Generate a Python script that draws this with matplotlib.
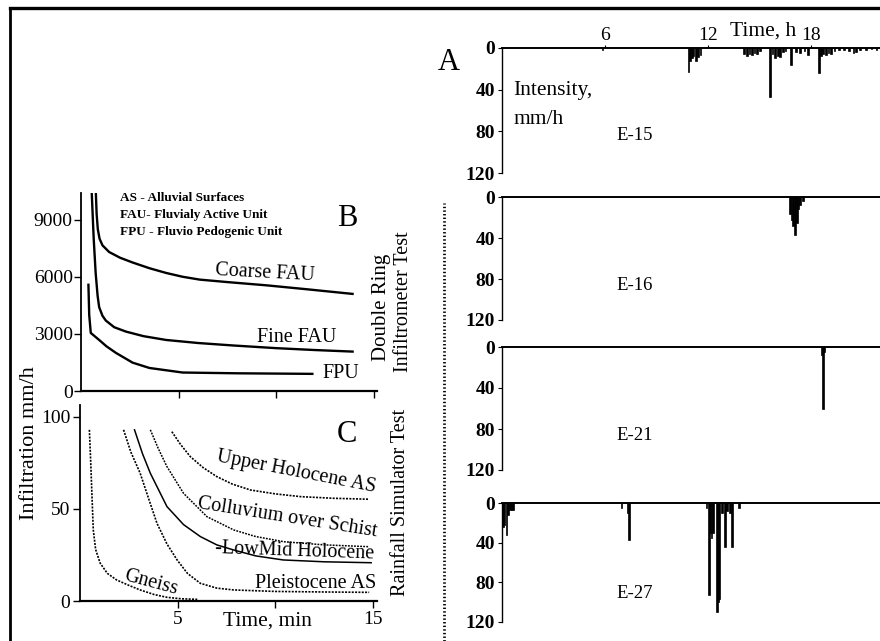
import matplotlib
matplotlib.use("Agg")
import matplotlib.pyplot as plt
from matplotlib.lines import Line2D

plt.rcParams['font.family'] = ['Liberation Serif', 'DejaVu Serif']

# ---------------- data ----------------
# Panel A: rainfall intensity events (time in h, intensity mm/h)
e15_t = [5.85, 10.85, 10.95, 11.05, 11.15, 11.3, 11.4, 11.55, 14.1, 14.25, 14.4, 14.55,
         14.7, 14.85, 15.0, 15.58, 15.75, 15.9, 16.05, 16.2, 16.35, 16.5, 16.8, 17.1,
         17.35, 17.6, 17.8, 18.43, 18.55, 18.7, 18.85, 19.0, 19.15, 19.35, 19.6, 19.9,
         20.2, 20.45, 20.6, 20.85, 21.2, 21.5, 21.8]
e15_v = [2, 23, 12, 10, 8, 12, 9, 7, 6, 8, 6, 7,
         5, 6, 3, 47, 6, 10, 8, 9, 4, 3, 16, 4,
         5, 3, 7, 24, 8, 6, 7, 5, 6, 3, 2, 2,
         3, 5, 4, 2, 2, 1, 2]
e16_t = [16.75, 16.85, 16.95, 17.05, 17.15, 17.25, 17.35, 17.5]
e16_v = [17, 22, 28, 37, 25, 12, 8, 4]
e21_t = [18.6, 18.68, 18.75]
e21_v = [8, 60, 5]
e27_t = [0.05, 0.15, 0.27, 0.35, 0.45, 0.55, 0.65, 6.96, 7.3, 7.38, 11.9, 12.05, 12.12,
         12.2, 12.3, 12.5, 12.57, 12.65, 12.8, 12.98, 13.1, 13.25, 13.37, 13.8]
e27_v = [24, 22, 32, 12, 7, 7, 7, 5, 10, 37, 5, 93, 30,
         35, 30, 110, 100, 97, 10, 44, 8, 10, 44, 5]
event_names = ["E-15", "E-16", "E-21", "E-27"]
intensity_ticks = [0, 40, 80, 120]
time_h_ticks = [6, 12, 18]

# Panel B: double ring infiltrometer (time min, infiltration mm/h)
coarse_t = [0.76, 0.80, 0.86, 0.95, 1.1, 1.44, 2.0, 2.64, 3.5, 4.36, 5.2, 6.08, 7.5, 9.5, 11.5, 13.9]
coarse_v = [10400, 9300, 8500, 8000, 7650, 7300, 7000, 6750, 6450, 6200, 6000, 5850, 5720, 5550, 5350, 5100]
fine_t = [0.55, 0.65, 0.75, 0.85, 0.93, 1.1, 1.27, 1.7, 2.3, 3.2, 4.36, 6.0, 7.8, 10.0, 12.0, 13.9]
fine_v = [10400, 8000, 6200, 5000, 4400, 3950, 3700, 3350, 3120, 2880, 2680, 2520, 2390, 2250, 2150, 2070]
fpu_t = [0.38, 0.42, 0.5, 0.93, 1.3, 1.79, 2.64, 3.5, 5.2, 8.0, 11.84]
fpu_v = [5580, 4000, 3050, 2680, 2350, 2000, 1490, 1210, 970, 930, 900]
b_yticks = [0, 3000, 6000, 9000]

# Panel C: rainfall simulator (time min, infiltration mm/h)
gneiss_t = [0.48, 0.55, 0.62, 0.68, 0.8, 1.03, 1.4, 1.88, 2.5, 3.08, 3.8, 4.45, 5.2, 6.0]
gneiss_v = [93, 75, 55, 38.6, 28, 20.6, 15, 11.4, 8.5, 6, 3.5, 2, 1.2, 0.9]
pleist_t = [2.23, 2.6, 3.08, 3.5, 3.94, 4.45, 4.97, 5.5, 6.16, 7.0, 7.87, 10.0, 12.5, 14.8]
pleist_v = [93, 81, 69.4, 56, 42.2, 31, 22.3, 15, 9.6, 7, 6, 5.2, 4.9, 4.7]
lowmid_t = [2.79, 3.2, 3.6, 4.45, 5.3, 6.16, 7.0, 7.87, 9.0, 10.4, 12.5, 14.9]
lowmid_v = [93, 80, 69.4, 51.3, 41.5, 35, 30.5, 27.7, 24.5, 22.3, 21.3, 20.8]
colluv_t = [3.6, 4.0, 4.45, 5.3, 6.5, 7.87, 9.0, 10.44, 12.5, 14.8]
colluv_v = [93, 83, 73, 58.5, 45.8, 38.6, 35, 32.2, 30.5, 29.5]
upper_t = [4.7, 5.15, 5.65, 6.3, 7.0, 7.8, 8.73, 10.0, 11.3, 13.0, 14.8]
upper_v = [92, 85, 78.4, 72.5, 67.6, 63.5, 60.3, 58.2, 56.7, 55.8, 55.3]
c_yticks = [0, 50, 100]
min_ticks = [5, 10, 15]
min_ticklabels = ["5", "", "15"]

# ---------------- figure ----------------
W, H = 880, 641
fig = plt.figure(figsize=(W / 100, H / 100), dpi=100)


def add_ax(x0, y0, x1, y1):
    return fig.add_axes([x0 / W, 1 - y1 / H, (x1 - x0) / W, (y1 - y0) / H])


def ftext(x, y, s, **kw):
    kw.setdefault('ha', 'center')
    kw.setdefault('va', 'center')
    return fig.text(x / W, 1 - y / H, s, **kw)


# frame lines
fig.add_artist(Line2D([10 / W, 10 / W], [0, 1 - 8 / H], color='black', lw=2,
                      transform=fig.transFigure))
fig.add_artist(Line2D([10 / W, 1], [1 - 8 / H, 1 - 8 / H], color='black', lw=2.4,
                      transform=fig.transFigure))
fig.add_artist(Line2D([444 / W, 444 / W], [0, 1 - 203 / H], color='black', lw=2.0,
                      ls=(0, (0.5, 0.8)), transform=fig.transFigure))

# ---------- Panel A ----------
events_t = [e15_t, e16_t, e21_t, e27_t]
events_v = [e15_v, e16_v, e21_v, e27_v]
a_rows = [(48, 173), (197, 320), (347, 470), (503, 622)]
name_y = [136, 285, 435, 593]
for i in range(4):
    y0, y1 = a_rows[i]
    ax = add_ax(502, y0, 880, y1)
    ax.patch.set_alpha(0)
    ax.bar(events_t[i], events_v[i], width=0.1, color='black', edgecolor='black',
           linewidth=0.5, align='center')
    ax.set_xlim(0, 22)
    ax.set_ylim(120, 0)
    ax.spines['right'].set_visible(False)
    ax.spines['bottom'].set_visible(False)
    ax.spines['top'].set_linewidth(1.4)
    ax.spines['left'].set_linewidth(1.0)
    ax.set_yticks(intensity_ticks)
    ax.tick_params(axis='y', direction='out', length=3, width=0.8, pad=2, labelsize=14)
    for lbl in ax.get_yticklabels():
        lbl.set_fontweight('bold')
    ax.xaxis.tick_top()
    if i == 0:
        ax.set_xticks(time_h_ticks)
        ax.tick_params(axis='x', direction='out', length=2, width=0.8, pad=1, labelsize=14)
    else:
        ax.set_xticks([])
    ftext(635, name_y[i], event_names[i], fontsize=13.5)

ftext(449, 62, "A", fontsize=22)
ftext(763, 31, "Time, h", fontsize=15.5)
ftext(513, 91, "Intensity,", fontsize=15.5, ha='left')
ftext(513, 120, "mm/h", fontsize=15.5, ha='left')

# ---------- Panel B ----------
axb = add_ax(81, 193, 377, 391)
axb.patch.set_alpha(0)
axb.plot(coarse_t, coarse_v, color='black', lw=1.7)
axb.plot(fine_t, fine_v, color='black', lw=1.7)
axb.plot(fpu_t, fpu_v, color='black', lw=1.7)
axb.set_xlim(0, 15.15)
axb.set_ylim(0, 10400)
axb.spines['right'].set_visible(False)
axb.spines['top'].set_visible(False)
axb.spines['left'].set_linewidth(1.3)
axb.spines['bottom'].set_linewidth(1.6)
axb.set_yticks(b_yticks)
axb.set_xticks(min_ticks)
axb.set_xticklabels([])
axb.tick_params(axis='both', direction='out', length=5, width=1.0, pad=1, labelsize=14)

ftext(120, 198, "AS - Alluvial Surfaces", fontsize=9.5, fontweight='bold', ha='left')
ftext(120, 215, "FAU- Fluvialy Active Unit", fontsize=9.5, fontweight='bold', ha='left')
ftext(120, 232, "FPU - Fluvio Pedogenic Unit", fontsize=9.5, fontweight='bold', ha='left')
ftext(347, 219, "B", fontsize=22)
ftext(265, 273, "Coarse FAU", fontsize=14.5, rotation=-3)
ftext(297, 337, "Fine FAU", fontsize=14.5)
ftext(341, 373, "FPU", fontsize=14.5)
ftext(381, 307, "Double Ring", fontsize=15, rotation=90)
ftext(403, 302, "Infiltrometer Test", fontsize=14.5, rotation=90)

# ---------- Panel C ----------
axc = add_ax(80, 405, 377, 601)
axc.patch.set_alpha(0)
dot = (0, (1.2, 0.8))
axc.plot(gneiss_t, gneiss_v, color='black', lw=1.2, ls=dot)
axc.plot(pleist_t, pleist_v, color='black', lw=1.2, ls=dot)
axc.plot(lowmid_t, lowmid_v, color='black', lw=1.1)
axc.plot(colluv_t, colluv_v, color='black', lw=1.1, ls=dot)
axc.plot(upper_t, upper_v, color='black', lw=1.2, ls=dot)
axc.set_xlim(0, 15.2)
axc.set_ylim(0, 106.5)
axc.spines['right'].set_visible(False)
axc.spines['top'].set_visible(False)
axc.spines['left'].set_linewidth(1.3)
axc.spines['bottom'].set_linewidth(1.6)
axc.set_yticks(c_yticks)
axc.set_xticks(min_ticks)
axc.set_xticklabels(min_ticklabels)
axc.tick_params(axis='both', direction='out', length=5, width=1.0, pad=2, labelsize=14)

ftext(347, 434, "C", fontsize=22)
ftext(267, 621, "Time, min", fontsize=15.5)
ftext(296, 472, "Upper Holocene AS", fontsize=14.5, rotation=-11)
ftext(287, 518, "Colluvium over Schist", fontsize=14.5, rotation=-9)
ftext(295, 551, "-LowMid Holocene", fontsize=14.5, rotation=-2)
ftext(316, 583, "Pleistocene AS", fontsize=14.5)
ftext(151, 583, "Gneiss", fontsize=14.5, rotation=-15)
ftext(400, 502, "Rainfall Simulator Test", fontsize=14.5, rotation=90)

ftext(30, 443, "Infiltration mm/h", fontsize=16, rotation=90)

fig.savefig("out.png", dpi=100)
